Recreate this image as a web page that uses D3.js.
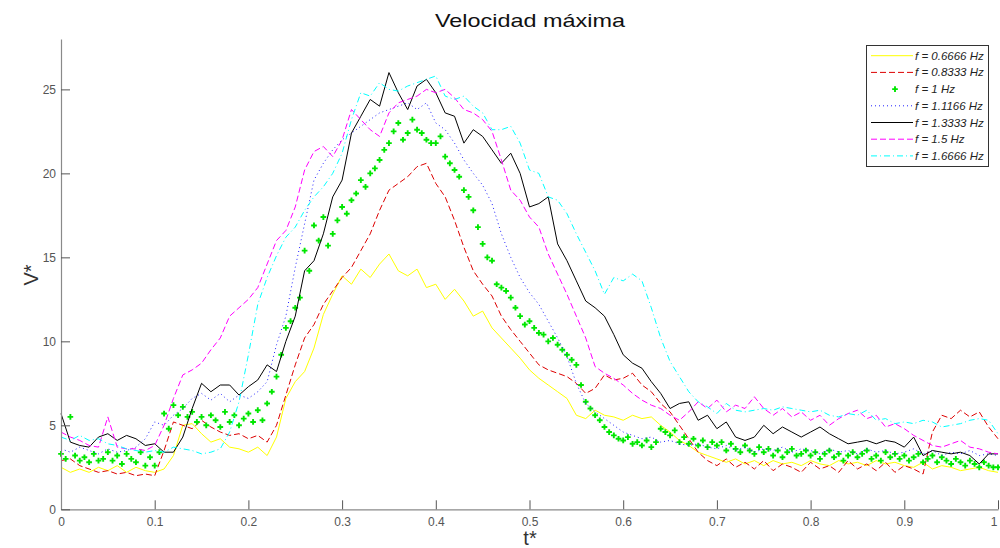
<!DOCTYPE html>
<html><head><meta charset="utf-8">
<script src="https://cdn.jsdelivr.net/npm/d3@7"></script>
<style>body{margin:0;background:#fff}svg{display:block}</style>
</head><body><svg id="c" width="1000" height="548"></svg>
<script>
const xTicks=[0,0.1,0.2,0.3,0.4,0.5,0.6,0.7,0.8,0.9,1];
const xTickLabels=["0","0.1","0.2","0.3","0.4","0.5","0.6","0.7","0.8","0.9","1"];
const yTicks=[0,5,10,15,20,25];
const yTickLabels=["0","5","10","15","20","25"];
const seriesNames=["f = 0.6666 Hz","f = 0.8333 Hz","f = 1 Hz","f = 1.1166 Hz","f = 1.3333 Hz","f = 1.5 Hz","f = 1.6666 Hz"];

const yellowVals=[2.5,2.2,2.4,2.2,2.5,2.3,2.6,2.2,2.5,2.3,
 2.2,2.4,3.2,5.0,5.1,4.5,4.0,4.2,3.7,3.6,
 3.4,3.7,3.2,4.3,6.6,7.6,8.2,9.6,11.6,12.8,
 13.9,13.4,14.3,13.8,14.6,15.2,14.2,13.9,14.3,13.2,
 13.4,12.5,13.1,12.4,11.5,11.8,10.8,10.2,9.6,9.0,
 8.3,7.8,7.4,7.0,6.6,5.6,5.4,5.9,5.6,5.5,
 5.3,5.6,5.4,5.5,5.0,4.6,4.1,3.8,3.4,3.2,
 3.0,2.8,3.0,2.7,2.9,2.6,2.9,2.7,2.8,2.6,
 2.9,2.7,2.6,2.9,2.7,2.8,2.6,2.9,2.7,2.8,
 2.6,2.5,2.8,2.4,2.6,2.5,2.3,2.4,2.5,2.3,
 2.2];
const redVals=[2.9,3.0,2.6,2.4,2.2,2.3,2.1,2.2,2.0,2.1,
 2.0,3.5,5.2,5.0,4.8,5.3,4.9,4.6,4.4,4.5,
 4.2,4.4,4.0,5.0,6.8,8.6,10.2,11.0,12.2,13.0,
 13.8,14.4,15.4,16.4,17.8,19.0,19.4,19.8,20.4,20.6,
 19.4,18.6,17.2,15.6,14.2,13.4,12.7,11.5,10.7,10.0,
 9.3,8.6,8.3,8.1,7.9,7.5,6.9,7.2,8.0,7.7,
 7.8,8.1,7.4,7.0,6.3,5.8,5.0,4.2,3.4,2.9,
 2.6,3.0,2.5,2.8,2.4,2.9,2.3,2.7,2.5,2.2,
 2.8,2.4,2.6,2.2,2.9,2.4,2.7,2.3,2.8,2.2,
 2.6,2.4,2.1,4.6,5.6,5.4,5.9,5.5,5.8,4.9,
 4.2];
const greenVals=[3.3,3.0,5.5,3.2,2.9,3.1,2.8,3.3,2.9,3.0,
 3.4,2.9,3.2,2.7,3.3,3.0,2.8,3.4,2.6,3.1,
 2.6,3.4,5.7,4.8,6.2,5.6,6.1,5.5,5.8,5.2,
 5.5,5.0,5.6,5.3,4.9,5.8,5.2,5.6,5.0,5.4,
 5.7,5.2,5.9,5.3,6.3,7.0,7.9,9.2,10.8,11.2,
 12.0,12.6,15.4,14.2,16.9,16.0,17.4,15.7,16.4,17.2,
 18.0,17.6,18.4,18.8,19.6,19.2,20.0,20.3,20.8,21.4,
 21.8,22.5,23.0,22.0,22.4,23.2,22.6,22.4,22.0,21.8,
 21.8,22.2,21.0,20.6,20.2,19.8,19.0,18.6,17.8,16.8,
 15.8,15.0,14.8,13.4,13.2,13.0,12.6,12.0,11.5,11.0,
 11.2,10.8,10.5,10.4,10.0,10.2,9.8,9.5,9.2,8.9,
 8.6,7.4,6.4,6.0,5.6,5.3,4.9,4.6,4.4,4.2,
 4.1,4.3,3.9,4.0,3.8,4.1,3.7,4.0,4.8,4.6,
 4.4,4.7,4.0,4.3,3.9,4.2,3.8,4.1,3.7,4.0,
 3.8,4.0,3.5,3.9,3.6,3.4,3.8,3.5,3.3,3.7,
 3.4,3.6,3.2,3.5,3.1,3.4,3.6,3.2,3.3,3.5,
 3.2,3.4,3.0,3.3,3.5,3.1,3.3,2.9,3.2,3.4,
 3.1,3.3,3.5,3.0,3.2,2.9,3.4,3.1,3.3,3.0,
 3.2,2.9,3.1,3.3,2.8,3.0,3.2,2.8,3.1,2.9,
 2.7,3.0,2.8,2.6,2.9,2.7,2.5,2.8,2.6,2.5,
 2.5];
const blueVals=[3.6,3.4,3.7,3.5,3.3,3.6,3.4,3.5,3.7,4.2,
 5.2,5.0,5.6,6.0,6.6,6.9,6.5,6.9,6.4,6.8,
 6.6,7.0,7.6,9.8,11.5,14.4,17.0,19.6,20.6,21.4,
 22.0,22.4,22.8,23.2,23.6,23.8,24.0,24.2,23.8,24.2,
 23.0,22.6,21.8,20.8,20.0,19.3,18.2,16.4,15.0,13.8,
 12.9,12.2,11.2,10.2,9.1,7.5,6.3,5.8,5.4,5.0,
 4.6,4.4,4.2,4.3,4.0,4.1,3.9,3.8,3.9,3.7,
 3.6,3.8,3.5,3.7,3.4,3.6,3.5,3.7,3.4,3.6,
 3.5,3.3,3.6,3.4,3.5,3.3,3.6,3.4,3.5,3.3,
 3.4,3.6,3.3,3.5,3.2,3.4,3.3,3.5,3.2,3.3,
 3.2];
const blackVals=[5.7,4.0,3.8,3.7,4.3,4.5,4.1,4.4,4.2,3.8,
 3.9,3.4,3.4,4.3,6.0,7.5,7.0,7.4,7.4,6.8,
 7.3,7.7,8.6,8.2,10.0,11.5,14.2,14.8,16.4,18.6,
 19.6,22.4,23.4,24.4,24.0,26.0,24.8,23.8,25.2,25.6,
 24.8,23.6,23.4,21.8,22.6,22.2,21.4,20.6,21.2,20.0,
 18.0,18.2,18.6,15.8,14.8,13.6,12.4,12.0,11.5,10.4,
 9.2,8.7,8.4,7.6,6.9,6.0,6.3,6.4,5.3,5.6,
 4.8,5.2,4.3,4.1,4.3,5.0,4.5,4.9,4.6,4.3,
 4.6,4.9,4.5,4.2,3.9,4.0,4.1,3.9,4.1,4.0,
 3.7,4.3,3.2,3.5,3.4,3.3,3.4,3.2,2.7,3.3,
 3.3];
const magentaVals=[4.6,4.3,4.1,3.8,3.7,5.5,3.7,3.6,3.6,3.5,
 3.8,5.0,6.6,8.0,8.3,8.7,9.5,10.2,11.5,12.0,
 12.5,13.2,14.6,16.0,16.6,18.0,20.2,21.3,21.6,21.0,
 22.0,23.8,23.2,22.6,22.2,23.6,24.2,24.4,24.6,25.0,
 24.8,25.0,24.5,23.8,23.6,23.2,22.5,20.8,19.0,18.4,
 17.4,16.8,15.2,14.0,12.8,11.5,10.2,8.5,8.1,7.8,
 7.4,6.9,6.5,6.2,6.0,5.6,5.3,5.8,6.4,6.0,
 6.5,5.8,6.2,6.0,6.7,6.0,5.6,6.0,5.5,5.8,
 5.3,5.6,5.0,5.4,5.7,5.9,5.4,5.6,4.9,5.1,
 4.8,4.4,4.1,3.8,3.7,3.9,4.1,3.7,3.6,3.4,
 3.3];
const cyanVals=[4.3,4.1,4.4,4.1,4.2,3.9,3.8,3.6,3.5,3.4,
 3.5,3.4,3.7,3.6,3.5,3.3,3.4,3.6,4.6,6.4,
 9.2,12.2,13.8,15.1,16.2,16.8,17.8,18.6,19.2,20.0,
 21.2,23.2,24.8,24.6,25.4,25.0,24.9,25.2,25.4,25.6,
 25.8,24.6,24.4,24.6,24.0,23.6,22.6,22.6,22.8,21.8,
 20.2,20.0,18.6,18.4,17.6,16.4,15.3,14.2,12.8,13.8,
 13.6,14.0,13.6,12.0,10.2,8.8,7.9,7.0,6.4,6.1,
 5.7,6.3,5.9,5.8,5.9,6.0,5.9,6.1,6.0,5.9,
 5.8,5.9,5.6,5.5,5.7,5.6,5.9,5.3,5.4,5.1,
 5.2,5.1,5.3,5.2,4.9,5.0,5.1,5.3,5.4,5.3,
 4.5];

const series=[
 {name:seriesNames[0],vals:yellowVals,color:"#ffff00",dash:null,type:"line"},
 {name:seriesNames[1],vals:redVals,color:"#dd0000",dash:"6,3",type:"line"},
 {name:seriesNames[2],vals:greenVals,color:"#00e600",dash:null,type:"points"},
 {name:seriesNames[3],vals:blueVals,color:"#2020ff",dash:"1,3",type:"line"},
 {name:seriesNames[4],vals:blackVals,color:"#000000",dash:null,type:"line"},
 {name:seriesNames[5],vals:magentaVals,color:"#ff00ff",dash:"6,3",type:"line"},
 {name:seriesNames[6],vals:cyanVals,color:"#00ffff",dash:"6,3,1,3",type:"line"}
];

const svg=d3.select("#c");
const x=d3.scaleLinear().domain([0,1]).range([61,998]);
const y=d3.scaleLinear().domain([0,28]).range([509.3,39]);
const FONT="'Liberation Sans', Arial, Helvetica, sans-serif";

// series
const plot=svg.append("g");
series.forEach(s=>{
  const n=s.vals.length;
  if(s.type==="line"){
    plot.append("path").datum(s.vals)
      .attr("fill","none").attr("stroke",s.color).attr("stroke-width",1)
      .attr("stroke-dasharray",s.dash)
      .attr("d",d3.line().x((d,i)=>x(i/(n-1))).y(d=>y(d)));
  } else {
    plot.selectAll(null).data(s.vals).enter().append("path")
      .attr("d",d3.symbol(d3.symbolCross,18))
      .attr("fill",s.color)
      .attr("transform",(d,i)=>`translate(${x(i/(n-1))},${y(d)})`);
  }
});

// axes
const xAxis=d3.axisBottom(x).tickValues(xTicks).tickFormat((d,i)=>xTickLabels[i]).tickSizeInner(-9).tickSizeOuter(0).tickPadding(8);
const yAxis=d3.axisLeft(y).tickValues(yTicks).tickFormat((d,i)=>yTickLabels[i]).tickSizeInner(-9).tickSizeOuter(0).tickPadding(5);
const gx=svg.append("g").attr("transform","translate(0,509.3)").call(xAxis);
const gy=svg.append("g").attr("transform","translate(61,0)").call(yAxis);
[gx,gy].forEach(g=>{
  g.select(".domain").attr("stroke","#8a8a8a").attr("stroke-width",1.2);
  g.selectAll(".tick line").attr("stroke","#555");
  g.selectAll(".tick text").attr("fill","#555").attr("font-size",12).attr("font-family",FONT);
});
// keep the last x label inside the frame
gx.selectAll(".tick text").filter((d,i)=>i===xTicks.length-1).attr("text-anchor","end").attr("dx","-1");

// title & labels
svg.append("text").attr("x",530).attr("y",27).attr("text-anchor","middle")
  .attr("font-family",FONT).attr("font-size",19).attr("fill","#111")
  .attr("textLength",190).attr("lengthAdjust","spacingAndGlyphs").text("Velocidad máxima");
svg.append("text").attr("transform","translate(38,275) rotate(-90)").attr("text-anchor","middle")
  .attr("font-family",FONT).attr("font-size",20).attr("fill","#333").text("V*");
svg.append("text").attr("x",530).attr("y",545).attr("text-anchor","middle")
  .attr("font-family",FONT).attr("font-size",20).attr("fill","#333").text("t*");

// legend
const lg=svg.append("g");
lg.append("rect").attr("x",866.5).attr("y",45.5).attr("width",122).attr("height",121)
  .attr("fill","#fff").attr("stroke","#333").attr("stroke-width",1);
series.forEach((s,i)=>{
  const yy=55.7+i*16.7;
  if(s.type==="line"){
    lg.append("line").attr("x1",871).attr("x2",913).attr("y1",yy).attr("y2",yy)
      .attr("stroke",s.color).attr("stroke-width",1).attr("stroke-dasharray",s.dash);
  } else {
    lg.append("path").attr("d",d3.symbol(d3.symbolCross,18)).attr("fill",s.color)
      .attr("transform",`translate(895,${yy})`);
  }
  lg.append("text").attr("x",915).attr("y",yy+4).attr("font-family",FONT)
    .attr("font-size",11.5).attr("font-style","italic").attr("fill","#222").text(s.name);
});
</script></body></html>
